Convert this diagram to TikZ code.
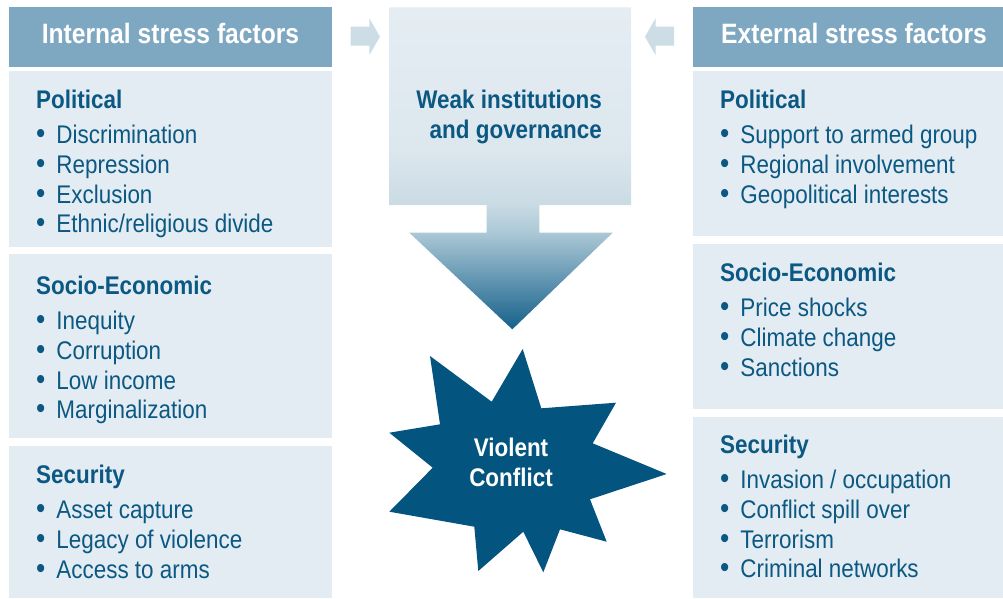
\documentclass[tikz,border=0pt]{standalone}
\usepackage{fontspec}
\setmainfont[FakeStretch=0.88]{Liberation Sans}
\usetikzlibrary{positioning}
\definecolor{headblue}{HTML}{7EA8C1}
\definecolor{panelblue}{HTML}{E4ECF3}
\definecolor{textblue}{HTML}{0B5882}
\definecolor{starblue}{HTML}{03557F}
\definecolor{arrowpale}{HTML}{CCDDE5}
\definecolor{fadetop}{HTML}{E5EDF3}
\definecolor{fadelight}{HTML}{DCE7EE}
\definecolor{fadebox}{HTML}{CADBE4}
\definecolor{fademid}{HTML}{ABC8D6}
\definecolor{fadedark}{HTML}{15608A}
\pgfdeclareverticalshading{weakfade}{100bp}{color(0bp)=(fadedark); color(25bp)=(fadedark); color(40bp)=(fademid); color(44.5bp)=(fadebox); color(53bp)=(fadelight); color(75bp)=(fadetop); color(100bp)=(fadetop)}
\newcommand{\blt}{{\fontsize{30}{0}\selectfont•}\hspace{11pt}}

\begin{document}
\begin{tikzpicture}[x=1pt, y=-1pt,
    header/.style={fill=headblue, inner sep=0pt, anchor=north west},
    headtext/.style={text=white, font=\fontsize{28}{32}\selectfont\bfseries, anchor=base, inner sep=0pt},
    panel/.style={fill=panelblue, inner sep=0pt, anchor=north west},
    factors/.style={text=textblue, align=left, anchor=base west, inner sep=0pt,
      font=\fontsize{25.5}{29.7}\selectfont},
    flag/.style={fill=arrowpale}]
  \useasboundingbox (0,0) rectangle (1003,598);

  % Headers
  \node[header, minimum width=323pt, minimum height=60pt] (inhead) at (9,7) {};
  \node[headtext] (inheadtext) at (170.5,43) {Internal stress factors};
  \node[header, minimum width=310pt, minimum height=60pt] (exhead) at (693,7) {};
  \node[headtext] (exheadtext) at (854,43) {External stress factors};

  % Internal factors (anchored at the baseline of the last line)
  \node[panel, minimum width=323pt, minimum height=175.5pt] (inpol) at (9,71) {};
  \node[panel, minimum width=323pt, minimum height=184pt] (insoc) at (9,254) {};
  \node[panel, minimum width=323pt, minimum height=152pt] (insec) at (9,446) {};
  \node[factors] (inpoltext) at (36,232.8) {\textbf{Political}\\[6pt]
    \blt Discrimination\\ \blt Repression\\ \blt Exclusion\\ \blt Ethnic/religious divide};
  \node[factors] (insoctext) at (36,418.8) {\textbf{Socio-Economic}\\[6pt]
    \blt Inequity\\ \blt Corruption\\ \blt Low income\\ \blt Marginalization};
  \node[factors] (insectext) at (36,578.1) {\textbf{Security}\\[6pt]
    \blt Asset capture\\ \blt Legacy of violence\\ \blt Access to arms};

  % External factors
  \node[panel, minimum width=310pt, minimum height=165pt] (expol) at (693,71) {};
  \node[panel, minimum width=310pt, minimum height=165pt] (exsoc) at (693,244) {};
  \node[panel, minimum width=310pt, minimum height=181pt] (exsec) at (693,417) {};
  \node[factors] (expoltext) at (720,203.1) {\textbf{Political}\\[6pt]
    \blt Support to armed group\\ \blt Regional involvement\\ \blt Geopolitical interests};
  \node[factors] (exsoctext) at (720,376.1) {\textbf{Socio-Economic}\\[6pt]
    \blt Price shocks\\ \blt Climate change\\ \blt Sanctions};
  \node[factors] (exsectext) at (720,577.8) {\textbf{Security}\\[6pt]
    \blt Invasion / occupation\\ \blt Conflict spill over\\ \blt Terrorism\\ \blt Criminal networks};

  % Small arrows into the centre
  \fill[flag] (350.7,26.7) -- (369.3,26.7) -- (369.3,18.3) -- (380,36.7)
    -- (369.3,55) -- (369.3,45.7) -- (350.7,45.7) -- cycle;
  \fill[flag] (674,26.7) -- (655.5,26.7) -- (655.5,18.3) -- (645,36.7)
    -- (655.5,55) -- (655.5,45.7) -- (674,45.7) -- cycle;

  % Weak institutions arrow
  \shade[shading=weakfade] (389.3,7.3) -- (631,7.3) -- (631,205) -- (539.3,205)
    -- (539.3,232.7) -- (612.7,232.7) -- (512.3,329.3) -- (409.3,232.7)
    -- (486.7,232.7) -- (486.7,205) -- (389.3,205) -- cycle;
  \node[text=textblue, align=right, anchor=base east, inner sep=0pt,
    font=\fontsize{25.5}{30}\selectfont\bfseries] (weak) at (602,138)
    {Weak institutions\\and governance};

  % Violent conflict star
  \fill[starblue] (430,356) -- (491.7,401.7) -- (522.7,349) -- (541.3,408.3)
    -- (616,402.7) -- (592.7,443.3) -- (666.7,474) -- (590,499.3)
    -- (606.7,541.7) -- (560,529.3) -- (543.3,572.3) -- (523.3,531.7)
    -- (478.3,571) -- (474.3,526.7) -- (389.3,511.7) -- (432.7,467.7)
    -- (389.3,432.7) -- (440,424.3) -- cycle;
  \node[text=white, align=center, anchor=base, inner sep=0pt,
    font=\fontsize{25.5}{30}\selectfont\bfseries] (conflict) at (511,486)
    {Violent\\Conflict};
\end{tikzpicture}
\end{document}
